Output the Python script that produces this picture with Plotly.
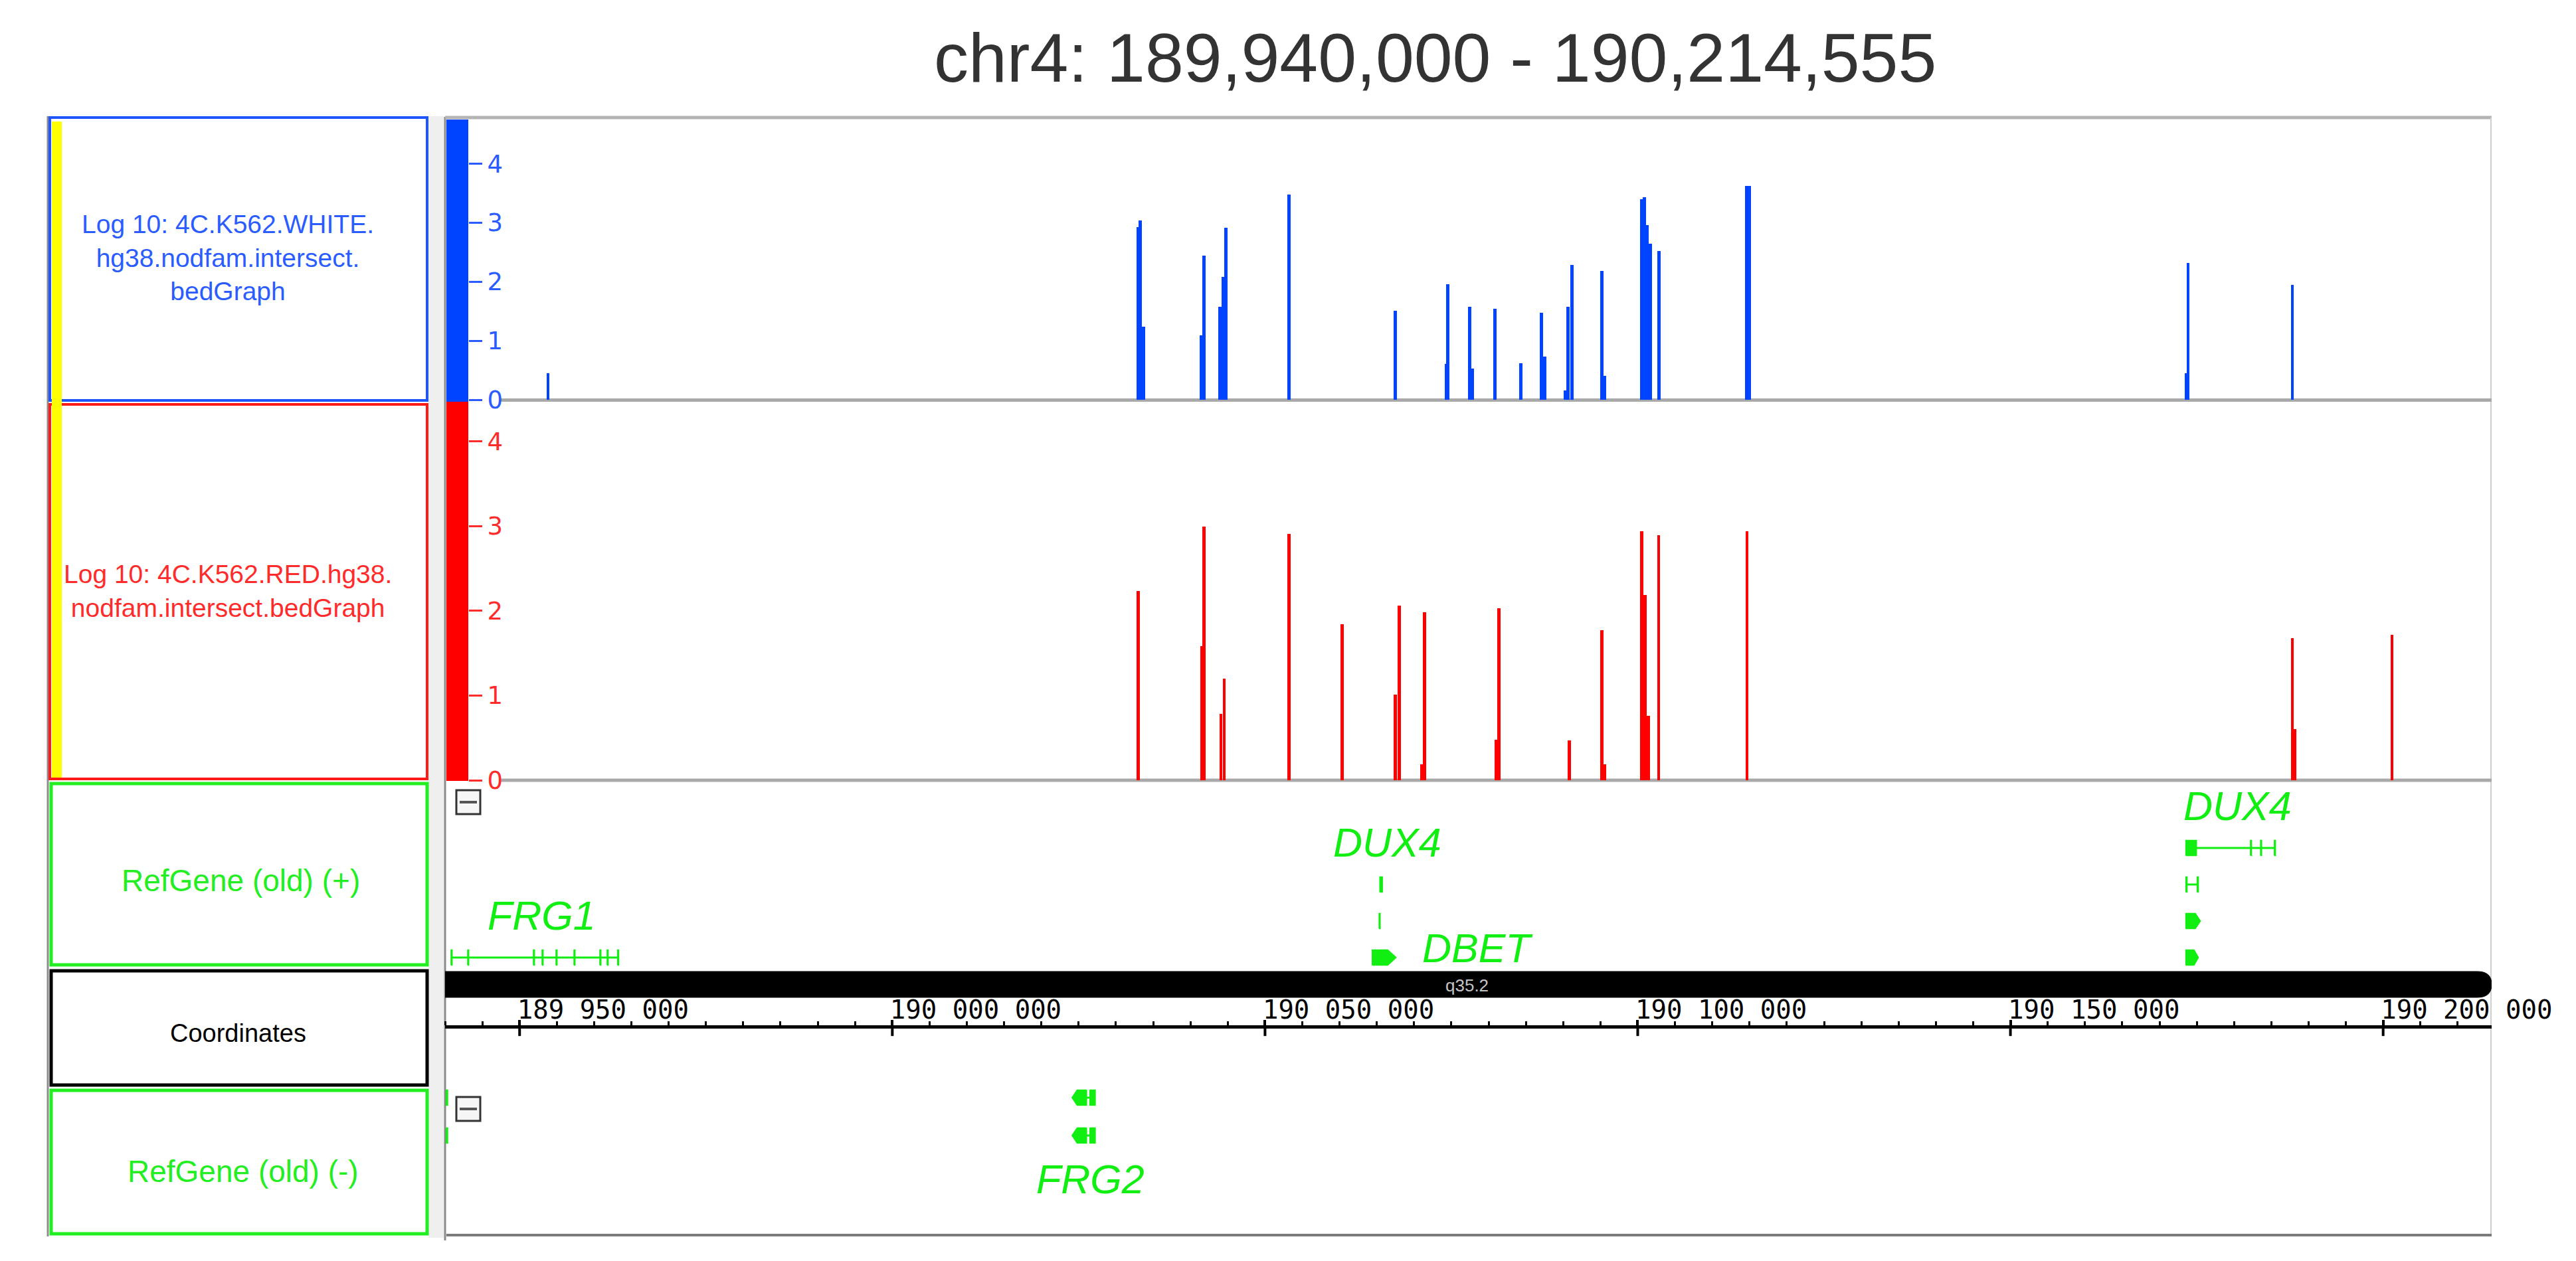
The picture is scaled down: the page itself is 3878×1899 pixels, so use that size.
import plotly.graph_objects as go

W, H = 3878, 1899
def fx(p): return p / W
def fy(p): return 1 - p / H

# ---------------- data ----------------
REGION = [189940000, 190214555]
title_text = "chr4: 189,940,000 - 190,214,555"

white_pos = [189953800, 190033000, 190033270, 190033700, 190041470, 190041820, 190043960,
             190044400, 190044760, 190053220, 190067480, 190074340, 190074520, 190077450,
             190077810, 190080840, 190084310, 190087080, 190087520, 190090280, 190090640,
             190091170, 190095180, 190095540, 190100530, 190100880, 190101240, 190101690,
             190102840, 190114600, 190114960, 190173580, 190173840, 190187830]
white_val = [0.45, 2.93, 3.04, 1.24, 1.09, 2.44, 1.58,
             2.08, 2.92, 3.48, 1.51, 0.61, 1.96, 1.58,
             0.53, 1.54, 0.62, 1.47, 0.73, 0.16, 1.58,
             2.28, 2.18, 0.40, 3.40, 3.43, 2.96, 2.65,
             2.52, 3.62, 3.62, 0.45, 2.32, 1.95]

red_pos = [190033000, 190041470, 190041820, 190044100, 190044550, 190053220, 190060350,
           190067480, 190068010, 190071040, 190071400, 190081020, 190081370, 190090820,
           190095180, 190095540, 190100530, 190100970, 190101420, 190102840, 190114690,
           190187830, 190188190, 190201190]
red_val = [2.23, 1.58, 2.99, 0.78, 1.20, 2.91, 1.84,
           1.01, 2.06, 0.19, 1.98, 0.48, 2.03, 0.47,
           1.77, 0.19, 2.94, 2.19, 0.76, 2.89, 2.94,
           1.68, 0.60, 1.72]

signal_ticks = [0, 1, 2, 3, 4]

ruler_major = [189950000, 190000000, 190050000, 190100000, 190150000, 190200000]
ruler_text = ["189 950 000", "190 000 000", "190 050 000",
              "190 100 000", "190 150 000", "190 200 000"]
ruler_minor_step = 5000

band_name = "q35.2"
band_mid = 190077100

plus_genes = [
    ("FRG1", [(0, 189940800, 189963300,
               [(189940800, 189940950), (189943030, 189943180), (189951850, 189952000),
                (189953010, 189953160), (189954880, 189955030), (189957290, 189957440),
                (189960760, 189960910), (189961740, 189961890), (189963150, 189963300)], False)]),
    ("DUX4", [(2, 190065400, 190065750, [(190065400, 190065750)], False),
              (1, 190065300, 190065450, [(190065300, 190065450)], False)]),
    ("DBET", [(0, 190064380, 190067590, [(190064380, 190067590)], True)]),
    ("DUX4", [(3, 190173530, 190185560,
               [(190173530, 190174960), (190182200, 190182350),
                (190183550, 190183700), (190185400, 190185560)], False),
              (2, 190173530, 190175220, [(190173530, 190173700), (190175050, 190175220)], False),
              (1, 190173530, 190175490, [(190173530, 190175490)], True),
              (0, 190173530, 190175220, [(190173530, 190175220)], True)]),
]
minus_genes = [
    ("FRG2", [(0, 190024110, 190027230, [(190024110, 190026070), (190026500, 190027230)], True),
              (1, 190024110, 190027230, [(190024110, 190026070), (190026500, 190027230)], True)]),
    ("", [(0, 189940150, 189940350, [(189940150, 189940350)], False),
          (1, 189940150, 189940350, [(189940150, 189940350)], False)]),
]
label_beside = {"DBET"}

# ---------------- styles ----------------
BLUE = "#0044ff"
BLUE_TXT = "#2a5cff"
RED = "#ff0000"
RED_TXT = "#ff2a2a"
GREEN = "#11ee11"
FONT = "Liberation Sans"

fig = go.Figure()

fig.add_trace(go.Bar(x=white_pos, y=white_val, width=400, xaxis="x", yaxis="y",
                     marker=dict(color=BLUE, line=dict(width=0)), hoverinfo="skip"))
fig.add_trace(go.Bar(x=red_pos, y=red_val, width=380, xaxis="x2", yaxis="y2",
                     marker=dict(color=RED, line=dict(width=0)), hoverinfo="skip"))

annotations = []

def gene_traces(genes, xa, ya, strand, h):
    polx, poly, lnx, lny = [], [], [], []
    for label, txs in genes:
        for row, s, e, exons, pointed in txs:
            if len(exons) > 1:
                lnx += [s, e, None]; lny += [row, row, None]
            for i, (a, b) in enumerate(exons):
                tip = 0.35 * (b - a)
                if pointed and strand == "+" and i == len(exons) - 1:
                    px_ = [a, b - tip, b, b - tip, a, a]
                    py_ = [row - h, row - h, row, row + h, row + h, row - h]
                elif pointed and strand == "-" and i == 0:
                    px_ = [b, a + tip, a, a + tip, b, b]
                    py_ = [row - h, row - h, row, row + h, row + h, row - h]
                else:
                    px_ = [a, b, b, a, a]
                    py_ = [row - h, row - h, row + h, row + h, row - h]
                polx += px_ + [None]; poly += py_ + [None]
        if not label:
            continue
        s_all = min(t[1] for t in txs); e_all = max(t[2] for t in txs)
        top = max(t[0] for t in txs)
        if label in label_beside:
            ax, ay, anc = e_all + 3300, txs[0][0] + 0.25, "left"
        else:
            ax, ay, anc = (s_all + e_all) / 2 + 900, top + 1.15, "center"
        annotations.append(dict(text="<i>%s</i>" % label, x=ax, y=ay, xref=xa, yref=ya,
                                xanchor=anc, yanchor="middle", showarrow=False,
                                font=dict(family=FONT, size=61, color=GREEN)))
    fig.add_trace(go.Scatter(x=lnx, y=lny, mode="lines", xaxis=xa, yaxis=ya,
                             line=dict(color=GREEN, width=3), hoverinfo="skip"))
    fig.add_trace(go.Scatter(x=polx, y=poly, mode="lines", fill="toself", fillcolor=GREEN,
                             xaxis=xa, yaxis=ya, line=dict(color=GREEN, width=1.5),
                             hoverinfo="skip"))

gene_traces(plus_genes, "x3", "y3", "+", 0.21)
gene_traces(minus_genes, "x5", "y5", "-", 0.2)

tx, ty = [], []
for v in ruler_major:
    tx += [v, v, None]; ty += [1.0, 0.87, None]
fig.add_trace(go.Scatter(x=tx, y=ty, mode="lines", xaxis="x4", yaxis="y4",
                         line=dict(color="black", width=4), hoverinfo="skip"))

# ---------------- axes ----------------
xdom = [fx(670), fx(3751)]
def hidden_x(anchor):
    return dict(domain=xdom, range=REGION, anchor=anchor, visible=False, fixedrange=True,
                automargin=False)

def signal_y(dom, rng, tcol):
    return dict(domain=dom, range=rng, anchor="free", position=fx(705), side="right",
                tickmode="array", tickvals=signal_ticks, ticks="outside", ticklen=20,
                tickwidth=3, tickcolor=tcol, ticklabelstandoff=0, automargin=False,
                tickfont=dict(family="DejaVu Sans", size=37, color=tcol),
                showgrid=False, zeroline=False, showline=False, fixedrange=True)

def hidden_y(dom, rng):
    return dict(domain=dom, range=rng, visible=False, fixedrange=True, automargin=False)

layout = dict(
    width=W, height=H, autosize=False,
    margin=dict(l=0, r=0, t=0, b=0, pad=0, autoexpand=False),
    paper_bgcolor="white", plot_bgcolor="rgba(0,0,0,0)", showlegend=False,
    barmode="overlay", bargap=0,
    xaxis=hidden_x("y"), xaxis2=hidden_x("y2"), xaxis3=hidden_x("y3"), xaxis5=hidden_x("y5"),
    xaxis4=dict(domain=xdom, range=REGION, anchor="y4", side="top", showline=True,
                linecolor="black", linewidth=5, tickmode="array", tickvals=ruler_major,
                ticktext=[t.replace(" ", "\u00a0") for t in ruler_text],
                ticks="outside", ticklen=8, tickwidth=4, tickcolor="black",
                ticklabelposition="outside right", ticklabelstandoff=-6, ticklabelshift=-8,
                tickfont=dict(family="DejaVu Sans Mono", size=39, color="black"),
                minor=dict(tickmode="linear", tick0=REGION[0], dtick=ruler_minor_step,
                           ticks="outside", ticklen=6, tickwidth=3, tickcolor="black"),
                showgrid=False, zeroline=False, fixedrange=True, automargin=False),
    yaxis=signal_y([fy(602), fy(180)], [0, 4.75], BLUE_TXT),
    yaxis2=signal_y([fy(1175), fy(604)], [0, 4.475], RED_TXT),
    yaxis3=hidden_y([fy(1460), fy(1178)], [-0.327, 4.8]),
    yaxis4=hidden_y([fy(1635), fy(1549)], [0, 1]),
    yaxis5=hidden_y([fy(1858), fy(1640)], [3.596, -0.228]),
)

shapes = []
def rect(x0, y0, x1, y1, fill=None, line=None, lw=0, layer="below"):
    shapes.append(dict(type="rect", xref="paper", yref="paper",
                       x0=fx(x0), x1=fx(x1), y0=fy(y1), y1=fy(y0),
                       fillcolor=fill if fill else "rgba(0,0,0,0)",
                       line=dict(color=line if line else "rgba(0,0,0,0)", width=lw),
                       layer=layer))
def hline(x0, x1, y, color, lw, layer="below"):
    shapes.append(dict(type="line", xref="paper", yref="paper", x0=fx(x0), x1=fx(x1),
                       y0=fy(y), y1=fy(y), line=dict(color=color, width=lw), layer=layer))
def vline(x, y0, y1, color, lw, layer="below"):
    shapes.append(dict(type="line", xref="paper", yref="paper", x0=fx(x), x1=fx(x),
                       y0=fy(y0), y1=fy(y1), line=dict(color=color, width=lw), layer=layer))

rect(645, 175, 668, 1864, fill="#efefef")
vline(72, 175, 1862, "#8c8c8c", 3)
vline(670, 176, 1868, "#8a8a8a", 3)
hline(670, 3751, 177, "#b4b4b4", 5)
vline(3750, 177, 1862, "#cfcfcf", 2)
hline(672, 3751, 1860, "#7a7a7a", 4)
rect(672, 180, 705, 605, fill=BLUE)
rect(672, 605, 705, 1176, fill=RED)
hline(752, 3751, 602.5, "#a9a9a9", 5)
hline(752, 3751, 1175, "#a9a9a9", 5)

rect(75, 177, 643, 603, line="#1f55ff", lw=4)
rect(75, 609, 643, 1173, line="#ff1a1a", lw=4)
rect(77, 1180, 643, 1453, line="#22ee22", lw=5)
rect(77, 1462, 643, 1634, line="black", lw=5)
rect(77, 1642, 643, 1858, line="#22ee22", lw=5)
rect(78, 183, 93, 1171, fill="#ffff00")

for y0 in (1190, 1652):
    rect(687, y0, 723, y0 + 36, fill="#f6f6f6", line="#333333", lw=3, layer="above")
    hline(692, 718, y0 + 18, "#555555", 4, layer="above")

x0, xe = REGION
xr = xe - 1900
yt, yb, ym = fy(1463), fy(1502), fy(1482.5)
shapes.append(dict(type="path", xref="x4", yref="paper", fillcolor="black",
                   line=dict(color="black", width=1), layer="below",
                   path=f"M {x0},{yt} L {xr},{yt} Q {xe},{yt} {xe},{ym} Q {xe},{yb} {xr},{yb} L {x0},{yb} Z"))

def note(text, x, y, size, color, family=FONT, xanchor="center"):
    annotations.append(dict(text=text, x=fx(x), y=fy(y), xref="paper", yref="paper",
                            xanchor=xanchor, yanchor="middle", showarrow=False,
                            font=dict(family=family, size=size, color=color)))

note(title_text, 2160, 87, 104, "#333333")
note("Log 10: 4C.K562.WHITE.<br>hg38.nodfam.intersect.<br>bedGraph", 343, 388, 39, BLUE_TXT)
note("Log 10: 4C.K562.RED.hg38.<br>nodfam.intersect.bedGraph", 343, 890, 39, RED_TXT)
note("RefGene (old) (+)", 362, 1326, 46, "#22ee22")
note("Coordinates", 358, 1556, 38, "black")
note("RefGene (old) (-)", 366, 1764, 46, "#22ee22")
annotations.append(dict(text=band_name, x=band_mid, y=fy(1484), xref="x4", yref="paper",
                        showarrow=False, xanchor="center", yanchor="middle",
                        font=dict(family=FONT, size=26, color="#c4c4c4")))

layout["shapes"] = shapes
layout["annotations"] = annotations
fig.update_layout(**layout)

fig.write_html("out.html", config={"responsive": False, "displayModeBar": False},
               post_script="document.body.style.margin='0';")
